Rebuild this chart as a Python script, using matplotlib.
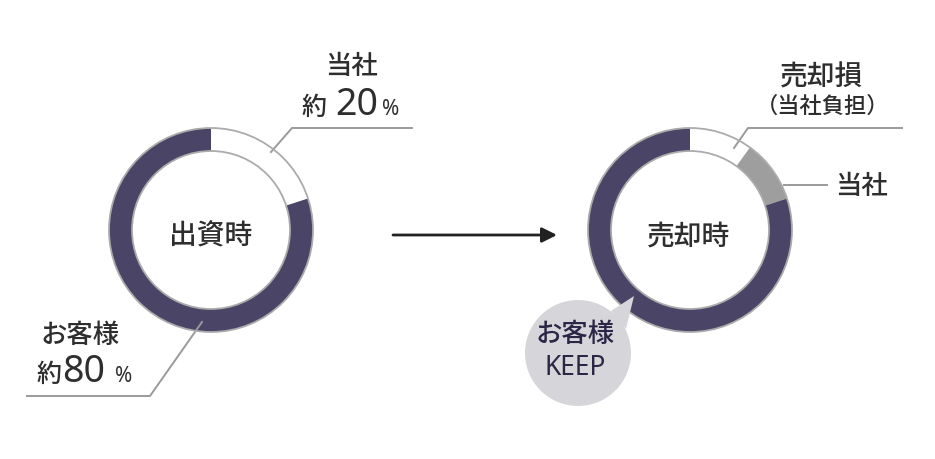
import matplotlib
matplotlib.use("Agg")
import matplotlib.pyplot as plt
from matplotlib.patches import Circle, Polygon

plt.rcParams['font.family'] = ['Noto Sans CJK JP', 'DejaVu Sans']
plt.rcParams['font.weight'] = 'medium'

# データ(割合)
invest_labels = ['当社', 'お客様']
invest_shares = [20, 80]
sale_labels = ['売却損', '当社', 'お客様']
sale_shares = [10, 10, 80]

DARK = '#4a4466'
GREY = '#9e9e9e'
LINE = '#9a9a9a'
TXT = '#2e2e2e'
NUM_FONT = ['Noto Sans', 'DejaVu Sans']

W, H = 935, 460


def Y(y):
    # 画像座標 -> データ座標
    return H - y


fig = plt.figure(figsize=(9.35, 4.6), dpi=100)
ax = fig.add_axes([0, 0, 1, 1])


def donut(shares, colors, cx, cy, r=102, w=23):
    ax.pie(shares, colors=colors, startangle=90, counterclock=False,
           radius=r, center=(cx, Y(cy)), frame=True,
           wedgeprops=dict(width=w, edgecolor='none', linewidth=0))
    for rr in (r, r - w):
        ax.add_patch(Circle((cx, Y(cy)), rr, fill=False,
                            edgecolor='#ababab', lw=1.3, zorder=3))


def pct_label(x_yaku, x_num, x_pct, y, value):
    ax.text(x_yaku, Y(y), '約', fontsize=18, color=TXT, ha='center', va='baseline')
    ax.text(x_num, Y(y), f'{value}', fontsize=27, color=TXT, ha='center',
            va='baseline', fontweight='light', family=NUM_FONT)
    ax.text(x_pct, Y(y), '%', fontsize=15, color=TXT, ha='center',
            va='baseline', fontweight='light', family=NUM_FONT)


# 出資時
donut(invest_shares, ['white', DARK], 211, 231)
ax.text(211, Y(236), '出資時', fontsize=20, color=TXT, ha='center', va='center')

# 売却時
donut(sale_shares, ['white', GREY, DARK], 690, 231)
ax.text(689, Y(236), '売却時', fontsize=20, color=TXT, ha='center', va='center')

# 矢印
ax.annotate('', xy=(557, Y(236)), xytext=(393, Y(236)),
            arrowprops=dict(arrowstyle='-|>,head_length=0.9,head_width=0.45',
                            color='#222222', lw=2.0, shrinkA=0, shrinkB=0))

# 引き出し線
ax.plot([271, 292, 412], [Y(153), Y(129), Y(129)], color=LINE, lw=1.4)
ax.plot([202, 150, 27], [Y(323), Y(397), Y(397)], color=LINE, lw=1.4)
ax.plot([734, 748, 902], [Y(149), Y(129), Y(129)], color=LINE, lw=1.4)
ax.plot([784, 827], [Y(186), Y(186)], color=LINE, lw=1.4)

# ラベル(左)
ax.text(351, Y(67), invest_labels[0], fontsize=19, color=TXT, ha='center', va='center')
pct_label(314, 357, 391, 115, invest_shares[0])

ax.text(80, Y(335), invest_labels[1], fontsize=19, color=TXT, ha='center', va='center')
pct_label(49, 84, 124, 382, invest_shares[1])

# ラベル(右)
ax.text(822, Y(77), sale_labels[0], fontsize=20, color=TXT, ha='center', va='center')
ax.text(823, Y(106), '（当社負担）', fontsize=16, color=TXT, ha='center', va='center')
ax.text(861, Y(187), sale_labels[1], fontsize=19, color=TXT, ha='center', va='center')

# 吹き出し
BUB = '#d6d5da'
ax.add_patch(Circle((578, Y(354)), 53, facecolor=BUB, edgecolor='none', zorder=4))
ax.add_patch(Polygon([(611, Y(312)), (634, Y(297)), (626, Y(330))],
                     closed=True, facecolor=BUB, edgecolor='none', zorder=4))
ax.text(575, Y(334), sale_labels[2], fontsize=19, color='#2b2645',
        ha='center', va='center', zorder=5)
ax.text(575, Y(368), 'KEEP', fontsize=19, color='#2b2645', fontweight='normal',
        ha='center', va='center', zorder=5, family=NUM_FONT)

ax.set_xlim(0, W)
ax.set_ylim(0, H)
ax.set_aspect('equal')
ax.axis('off')

fig.savefig('out.png', dpi=100, facecolor='white')
